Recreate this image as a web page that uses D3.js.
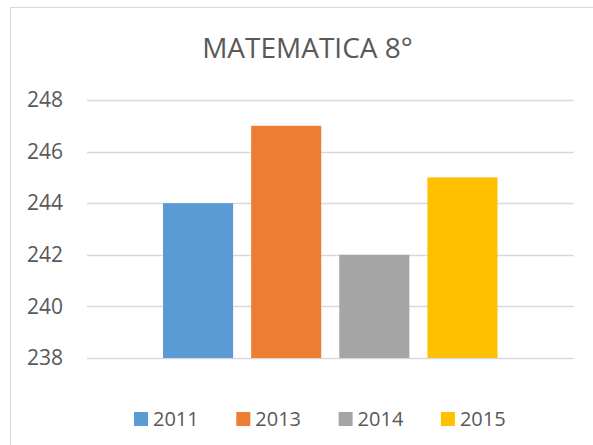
<!DOCTYPE html>
<html>
<head>
<meta charset="utf-8">
<script src="https://cdn.jsdelivr.net/npm/d3@7"></script>
<style>
  html, body { margin: 0; padding: 0; background: #fff; }
  svg { display: block; font-family: "Open Sans", sans-serif; }
</style>
</head>
<body>
<svg id="chart" width="593" height="445"></svg>
<script>
const categories = ["2011", "2013", "2014", "2015"];
const values = [244, 247, 242, 245];
const colors = ["#5B9BD5", "#ED7D31", "#A5A5A5", "#FFC000"];
const yTicks = [238, 240, 242, 244, 246, 248];
const title = "MATEMATICA 8°";

const svg = d3.select("#chart");
const textColor = "#595959";

// chart frame
svg.append("rect")
  .attr("x", 10.5).attr("y", 7.5)
  .attr("width", 600).attr("height", 450)
  .attr("fill", "#fff")
  .attr("stroke", "#d9d9d9").attr("stroke-width", 1);

const plot = { left: 87, right: 574, top: 100, bottom: 358 };

const y = d3.scaleLinear().domain([238, 248]).range([plot.bottom, plot.top]);
const x = d3.scaleBand().domain(categories)
  .range([163, 497.5]).paddingInner(0.2045).paddingOuter(0);

// title
svg.append("text")
  .attr("x", 307.5).attr("y", 58)
  .attr("text-anchor", "middle")
  .attr("font-size", 28)
  .attr("fill", textColor)
  .text(title);

// gridlines
svg.append("g").selectAll("line").data(yTicks).join("line")
  .attr("x1", plot.left).attr("x2", plot.right)
  .attr("y1", d => Math.round(y(d)) + 0.5).attr("y2", d => Math.round(y(d)) + 0.5)
  .attr("stroke", "#d9d9d9").attr("stroke-width", 1.3);

// y axis labels
const yAxis = d3.axisLeft(y).tickValues(yTicks).tickSize(0).tickPadding(0);
const gy = svg.append("g").attr("transform", "translate(63,0)").call(yAxis);
gy.select(".domain").remove();
gy.selectAll("text")
  .attr("font-size", 21)
  .attr("font-family", "Open Sans, sans-serif")
  .attr("fill", textColor)
  .attr("x", 0);

// bars
svg.append("g").selectAll("rect").data(categories).join("rect")
  .attr("x", d => x(d))
  .attr("width", x.bandwidth())
  .attr("y", (d, i) => y(values[i]))
  .attr("height", (d, i) => y(238) - y(values[i]))
  .attr("fill", (d, i) => colors[i]);

// legend
const legend = svg.append("g");
const items = legend.selectAll("g").data(categories).join("g")
  .attr("transform", (d, i) => `translate(${134 + i * 102.3},412)`);
items.append("rect").attr("width", 14).attr("height", 14)
  .attr("fill", (d, i) => colors[i]);
items.append("text").attr("x", 19).attr("y", 14)
  .attr("font-size", 20).attr("fill", textColor)
  .text(d => d);
</script>
</body>
</html>
